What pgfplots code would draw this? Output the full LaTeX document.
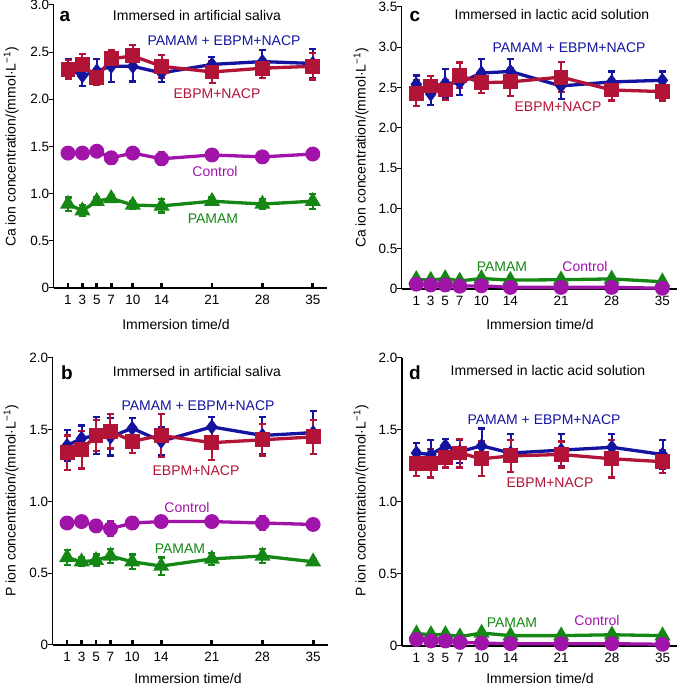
\documentclass[border=0pt]{standalone}
\usepackage{fontspec}
\setmainfont{Liberation Sans}
\usepackage{pgfplots}
\pgfplotsset{compat=1.18}

\definecolor{blueC}{RGB}{20,20,160}
\definecolor{redC}{RGB}{178,20,55}
\definecolor{purpC}{RGB}{160,20,170}
\definecolor{greenC}{RGB}{20,135,20}

\pgfplotsset{
  panel/.style={
    scale only axis, anchor=south west, clip=false,
    axis lines=left, axis line style={-, line width=1.3pt, black},
    xmin=-1, xmax=37,
    xtick={1,3,5,7,10,14,21,28,35},
    tick align=inside, major tick length=5pt,
    every tick/.style={black},
    x tick style={black, line width=2.8pt},
    y tick style={black, line width=1pt, xshift=-5pt},
    xticklabel style={yshift=-4pt},
    yticklabel style={xshift=-1pt},
    tick label style={font=\fontsize{13.5}{15}\selectfont},
    /pgf/number format/assume math mode=true,
  },
  ser/.style={#1, line width=3.3pt, mark options={solid},
    /pgfplots/error bars/y dir=both,
    /pgfplots/error bars/y explicit,
    /pgfplots/error bars/error bar style={line width=2pt, #1},
    /pgfplots/error bars/error mark options={rotate=90, mark size=3.5pt, line width=2.2pt, #1}},
  sPB/.style={ser=blueC, mark=diamond*, mark size=5pt},
  sEN/.style={ser=redC, mark=square*, mark size=5.8pt},
  sCT/.style={ser=purpC, mark=*, mark size=5.8pt},
  sPA/.style={ser=greenC, mark=triangle*, mark size=6pt},
}

\newcommand{\fs}{\fontsize{14}{16}\selectfont}

\begin{document}
\begin{tikzpicture}
\path[use as bounding box] (0pt,0pt) rectangle (678pt,685pt);

% ---- a : Ca, artificial saliva
\begin{axis}[panel, at={(53.6pt,397pt)}, width=273.6pt, height=283pt,
  ymin=0, ymax=3, ytick={0,0.5,...,3.0}, yticklabels={0,0.5,1.0,1.5,2.0,2.5,3.0}]
\addplot[sPA] table[x=d,y=v,y error=e] {
d v e
1 0.89 0.07
3 0.82 0.06
5 0.92 0.04
7 0.95 0.04
10 0.88 0.04
14 0.87 0.07
21 0.92 0.04
28 0.89 0.05
35 0.92 0.08
};
\addplot[sCT] table[x=d,y=v,y error=e] {
d v e
1 1.43 0.04
3 1.43 0.04
5 1.45 0.05
7 1.38 0.06
10 1.43 0.04
14 1.37 0.07
21 1.41 0.05
28 1.39 0.06
35 1.42 0.05
};
\addplot[sPB] table[x=d,y=v,y error=e] {
d v e
1 2.33 0.10
3 2.25 0.11
5 2.30 0.13
7 2.35 0.17
10 2.35 0.16
14 2.28 0.10
21 2.37 0.08
28 2.40 0.12
35 2.38 0.15
};
\addplot[sEN] table[x=d,y=v,y error=e] {
d v e
1 2.32 0.10
3 2.37 0.11
5 2.23 0.08
7 2.43 0.09
10 2.46 0.12
14 2.35 0.12
21 2.29 0.12
28 2.33 0.10
35 2.35 0.14
};
\end{axis}

% ---- c : Ca, lactic acid
\begin{axis}[panel, at={(401.8pt,396pt)}, width=275pt, height=282pt,
  ymin=0, ymax=3.5, ytick={0,0.5,...,3.5}, yticklabels={0,0.5,1.0,1.5,2.0,2.5,3.0,3.5}]
\addplot[sPA] table[x=d,y=v,y error=e] {
d v e
1 0.12 0.02
3 0.11 0.02
5 0.13 0.02
7 0.10 0.02
10 0.13 0.02
14 0.11 0.02
21 0.115 0.02
28 0.125 0.02
35 0.09 0.02
};
\addplot[sCT] table[x=d,y=v,y error=e] {
d v e
1 0.06 0.01
3 0.05 0.01
5 0.05 0.01
7 0.035 0.01
10 0.04 0.01
14 0.02 0.01
21 0.02 0.01
28 0.02 0.01
35 0.01 0.01
};
\addplot[sPB] table[x=d,y=v,y error=e] {
d v e
1 2.54 0.11
3 2.42 0.14
5 2.55 0.18
7 2.56 0.15
10 2.68 0.17
14 2.70 0.15
21 2.52 0.16
28 2.57 0.13
35 2.59 0.11
};
\addplot[sEN] table[x=d,y=v,y error=e] {
d v e
1 2.43 0.16
3 2.52 0.12
5 2.47 0.12
7 2.65 0.16
10 2.56 0.13
14 2.57 0.17
21 2.63 0.19
28 2.47 0.13
35 2.45 0.11
};
\end{axis}

% ---- b : P, artificial saliva
\begin{axis}[panel, at={(52.6pt,40pt)}, width=275pt, height=287pt,
  ymin=0, ymax=2, ytick={0,0.5,...,2.0}, yticklabels={0,0.5,1.0,1.5,2.0}]
\addplot[sPA] table[x=d,y=v,y error=e] {
d v e
1 0.61 0.05
3 0.58 0.03
5 0.59 0.04
7 0.62 0.05
10 0.58 0.05
14 0.55 0.06
21 0.60 0.04
28 0.62 0.05
35 0.58 0.02
};
\addplot[sCT] table[x=d,y=v,y error=e] {
d v e
1 0.85 0.03
3 0.86 0.03
5 0.83 0.04
7 0.81 0.05
10 0.85 0.04
14 0.86 0.04
21 0.86 0.03
28 0.85 0.05
35 0.84 0.04
};
\addplot[sPB] table[x=d,y=v,y error=e] {
d v e
1 1.39 0.11
3 1.44 0.09
5 1.46 0.13
7 1.45 0.13
10 1.51 0.07
14 1.42 0.10
21 1.52 0.07
28 1.46 0.13
35 1.48 0.15
};
\addplot[sEN] table[x=d,y=v,y error=e] {
d v e
1 1.34 0.12
3 1.36 0.13
5 1.46 0.11
7 1.49 0.12
10 1.42 0.08
14 1.46 0.15
21 1.41 0.12
28 1.43 0.11
35 1.45 0.12
};
\end{axis}

% ---- d : P, lactic acid
\begin{axis}[panel, at={(402pt,39pt)}, width=275pt, height=288pt,
  ymin=0, ymax=2, ytick={0,0.5,...,2.0}, yticklabels={0,0.5,1.0,1.5,2.0}]
\addplot[sPA] table[x=d,y=v,y error=e] {
d v e
1 0.085 0.01
3 0.08 0.01
5 0.08 0.01
7 0.065 0.01
10 0.09 0.01
14 0.072 0.01
21 0.072 0.01
28 0.078 0.01
35 0.072 0.01
};
\addplot[sCT] table[x=d,y=v,y error=e] {
d v e
1 0.045 0.01
3 0.035 0.01
5 0.035 0.01
7 0.025 0.01
10 0.02 0.01
14 0.016 0.01
21 0.016 0.01
28 0.016 0.01
35 0.012 0.01
};
\addplot[sPB] table[x=d,y=v,y error=e] {
d v e
1 1.34 0.07
3 1.33 0.10
5 1.39 0.05
7 1.35 0.08
10 1.39 0.12
14 1.34 0.13
21 1.36 0.11
28 1.38 0.09
35 1.33 0.10
};
\addplot[sEN] table[x=d,y=v,y error=e] {
d v e
1 1.27 0.09
3 1.27 0.10
5 1.31 0.07
7 1.34 0.10
10 1.30 0.12
14 1.32 0.11
21 1.33 0.09
28 1.30 0.13
35 1.28 0.08
};
\end{axis}

% ---- texts
\begin{scope}[every node/.style={font=\fs, inner sep=0pt}]
% a
\node[font=\fontsize{19}{21}\bfseries] at (65pt,669pt) {a};
\node at (197pt,669pt) {Immersed in artificial saliva};
\node[text=blueC] at (224pt,644pt) {PAMAM + EBPM+NACP};
\node[text=redC] at (217pt,591pt) {EBPM+NACP};
\node[text=purpC] at (215pt,513pt) {Control};
\node[text=greenC] at (213pt,466pt) {PAMAM};
\node at (176pt,360pt) {Immersion time/d};
\node[rotate=90] at (11pt,538pt) {Ca ion concentration/(mmol·L\textsuperscript{−1})};
% c
\node[font=\fontsize{19}{21}\bfseries] at (415pt,669pt) {c};
\node at (552pt,670pt) {Immersed in lactic acid solution};
\node[text=blueC] at (569pt,637pt) {PAMAM + EBPM+NACP};
\node[text=redC] at (558pt,578pt) {EBPM+NACP};
\node[text=greenC] at (502pt,418pt) {PAMAM};
\node[text=purpC] at (585pt,418pt) {Control};
\node at (540pt,360pt) {Immersion time/d};
\node[rotate=90] at (361pt,537pt) {Ca ion concentration/(mmol·L\textsuperscript{−1})};
% b
\node[font=\fontsize{19}{21}\bfseries] at (67pt,312pt) {b};
\node at (197pt,313pt) {Immersed in artificial saliva};
\node[text=blueC] at (198pt,279pt) {PAMAM + EBPM+NACP};
\node[text=redC] at (196pt,214pt) {EBPM+NACP};
\node[text=purpC] at (187pt,178pt) {Control};
\node[text=greenC] at (180pt,136pt) {PAMAM};
\node at (188pt,7pt) {Immersion time/d};
\node[rotate=90] at (11pt,184pt) {P ion concentration/(mmol·L\textsuperscript{−1})};
% d
\node[font=\fontsize{19}{21}\bfseries] at (415pt,312pt) {d};
\node at (548pt,314pt) {Immersed in lactic acid solution};
\node[text=blueC] at (544pt,265pt) {PAMAM + EBPM+NACP};
\node[text=redC] at (550pt,202pt) {EBPM+NACP};
\node[text=greenC] at (512pt,62pt) {PAMAM};
\node[text=purpC] at (597pt,65pt) {Control};
\node at (540pt,7pt) {Immersion time/d};
\node[rotate=90] at (361pt,184pt) {P ion concentration/(mmol·L\textsuperscript{−1})};
\end{scope}
\end{tikzpicture}
\end{document}
